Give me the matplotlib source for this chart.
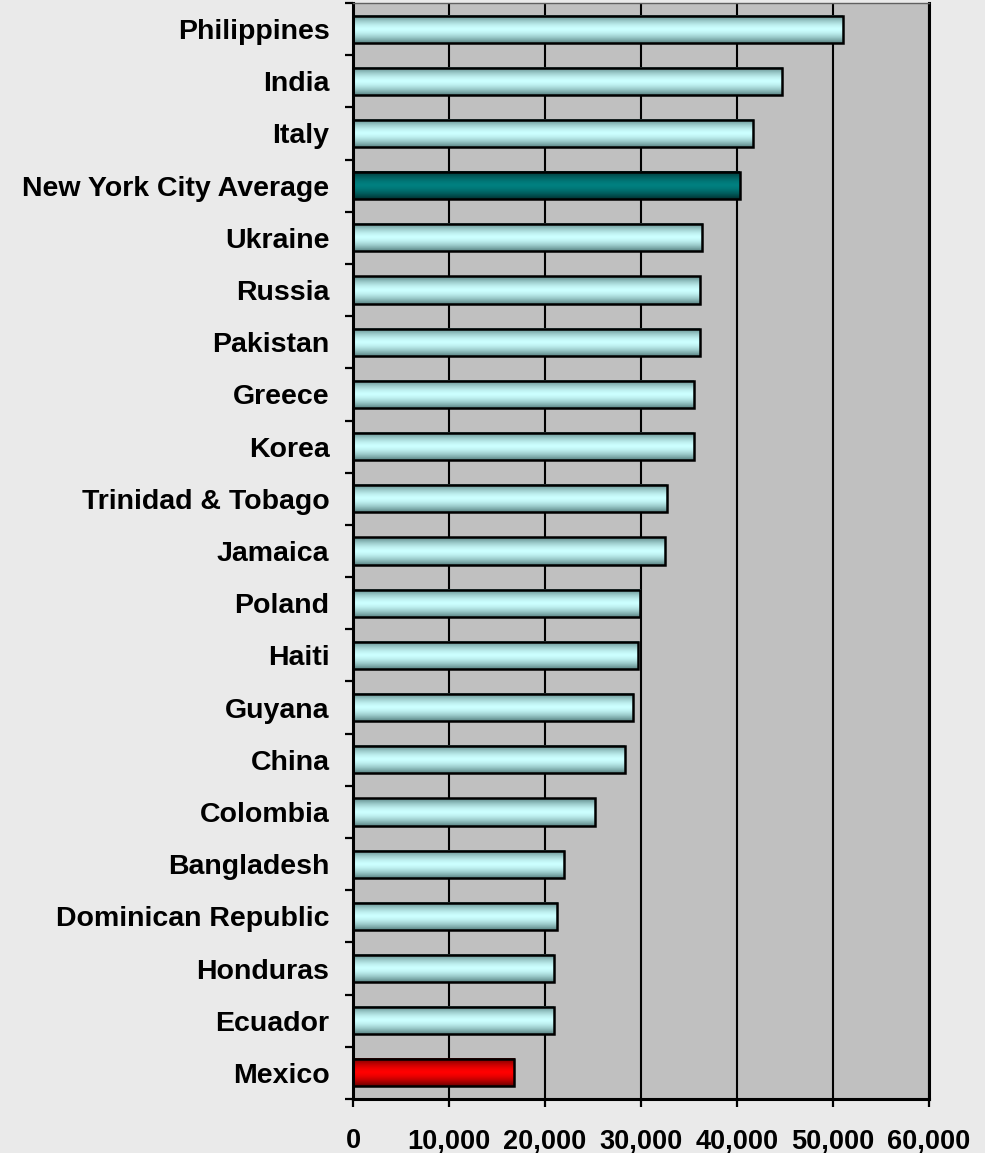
import numpy as np
import matplotlib.pyplot as plt
from matplotlib.colors import to_rgb

plt.rcParams['font.family'] = ['Liberation Sans', 'DejaVu Sans']
plt.rcParams['font.weight'] = 'bold'

countries = ['Philippines', 'India', 'Italy', 'New York City Average', 'Ukraine',
             'Russia', 'Pakistan', 'Greece', 'Korea', 'Trinidad & Tobago', 'Jamaica',
             'Poland', 'Haiti', 'Guyana', 'China', 'Colombia', 'Bangladesh',
             'Dominican Republic', 'Honduras', 'Ecuador', 'Mexico']
income = [51000, 44700, 41700, 40300, 36400, 36100, 36100, 35500, 35500, 32700,
          32500, 29900, 29700, 29200, 28300, 25200, 22000, 21300, 20900, 20900, 16800]
xticks = [0, 10000, 20000, 30000, 40000, 50000, 60000]

# (edge colour, centre colour) of the shaded bars
shade = {'cyan': ('#5a8484', '#ccffff'),
         'teal': ('#003030', '#008080'),
         'red': ('#6a0000', '#ff0000')}
kind = ['cyan'] * len(countries)
kind[countries.index('New York City Average')] = 'teal'
kind[countries.index('Mexico')] = 'red'


def gradient(edge, centre, n=64):
    t = np.abs(np.linspace(-1, 1, n)) ** 1.6
    e, c = np.array(to_rgb(edge)), np.array(to_rgb(centre))
    return (c + (e - c) * t[:, None])[:, None, :]


fig = plt.figure(figsize=(9.85, 11.53), dpi=100, facecolor='#eaeaea')
ax = fig.add_axes([353/985, 1 - 1099/1153, 576/985, 1096/1153])
ax.set_facecolor('#c0c0c0')

y = np.arange(len(countries))
bars = ax.barh(y, income, height=0.52, facecolor='none', edgecolor='black',
               linewidth=1.8, zorder=3)
for b, k in zip(bars, kind):
    x0, y0, w, h = b.get_x(), b.get_y(), b.get_width(), b.get_height()
    ax.imshow(gradient(*shade[k]), extent=(x0, x0 + w, y0 + h, y0),
              aspect='auto', interpolation='bilinear', zorder=2)

ax.set_xlim(0, 60000)
ax.set_ylim(len(countries) - 0.5, -0.5)
ax.set_aspect('auto')

ax.set_xticks(xticks)
ax.set_xticklabels(['{:,}'.format(v) for v in xticks])
ax.set_yticks(y)
ax.set_yticklabels(countries)
ax.set_yticks(np.arange(len(countries) + 1) - 0.5, minor=True)

ax.tick_params(axis='y', which='major', length=0, pad=17, labelsize=20.5)
ax.tick_params(axis='y', which='minor', length=6, width=1.6, direction='out')
ax.tick_params(axis='x', which='major', length=6, width=1.6, pad=15, labelsize=19.5)

ax.grid(axis='x', color='black', linewidth=1.5, zorder=1)
ax.set_axisbelow(True)

for side in ['left', 'right', 'bottom']:
    ax.spines[side].set_linewidth(2.2)
    ax.spines[side].set_color('black')
ax.spines['top'].set_linewidth(1.0)
ax.spines['top'].set_color('#606060')

fig.savefig('out.png', dpi=100, facecolor=fig.get_facecolor())
